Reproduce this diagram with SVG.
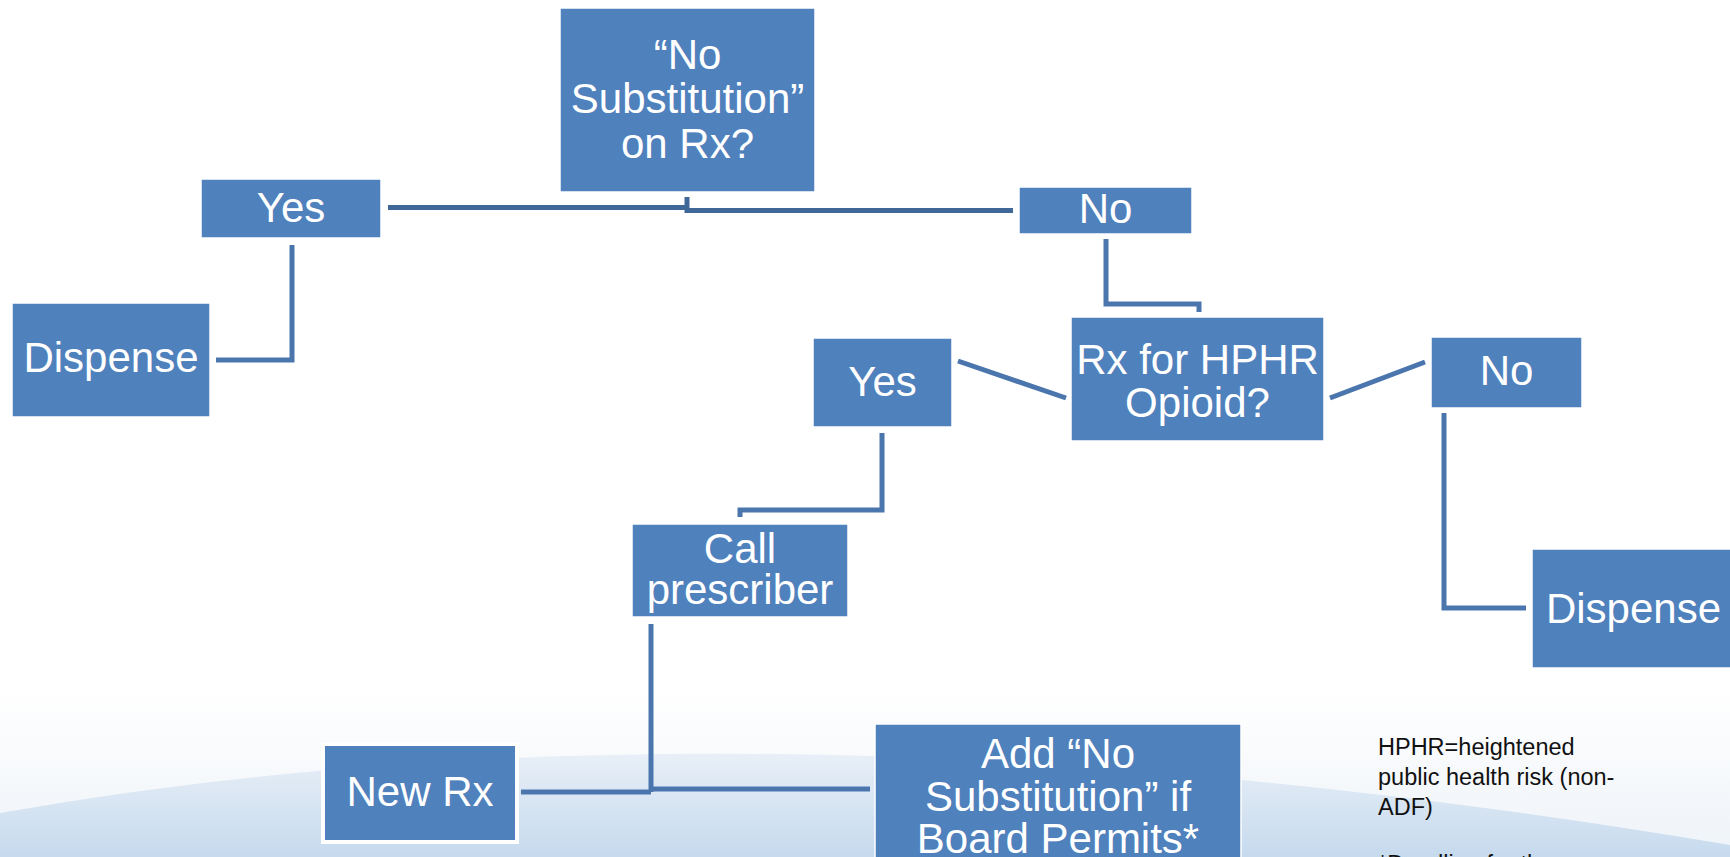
<svg xmlns="http://www.w3.org/2000/svg" width="1730" height="857" viewBox="0 0 1730 857">
  <defs>
    <linearGradient id="bgLow" x1="0" y1="0" x2="0" y2="1">
      <stop offset="0" stop-color="#e8eff7"/>
      <stop offset="1" stop-color="#c6daee"/>
    </linearGradient>
    <linearGradient id="bgHaze" x1="0" y1="0" x2="0" y2="1">
      <stop offset="0" stop-color="#ffffff"/>
      <stop offset="1" stop-color="#eef3f8"/>
    </linearGradient>
    <style>
      .box { fill: #4F81BD; stroke: #ffffff; stroke-width: 1.5; }
      .lbl { fill: #ffffff; font-family: "Liberation Sans", Arial, sans-serif; font-size: 42px; text-anchor: middle; }
      .note { fill: #111111; font-family: "Liberation Sans", Arial, sans-serif; font-size: 23.5px; }
      .conn { fill: none; stroke: #4A76AD; stroke-width: 5; stroke-linejoin: miter; stroke-linecap: butt; }
      .conn-top { fill: none; stroke: #3F6797; stroke-width: 5; }
    </style>
  </defs>

  <g id="background">
    <rect x="0" y="0" width="1730" height="857" fill="#ffffff"/>
    <rect x="0" y="690" width="1730" height="167" fill="url(#bgHaze)"/>
    <path d="M0,813 Q750,680 1730,845 L1730,857 L0,857 Z" fill="url(#bgLow)"/>
  </g>

  <g id="connectors">
    <path class="conn-top" d="M388,207.5 H689"/>
    <path class="conn-top" d="M687,197 V213"/>
    <path class="conn-top" d="M687,210.5 H1013"/>
    <path class="conn" d="M292,245 V360 H216"/>
    <path class="conn" d="M1106,239 V304 H1199 V312"/>
    <path class="conn" d="M958,361 L1066,398"/>
    <path class="conn" d="M1330,398 L1425,362"/>
    <path class="conn" d="M882,433 V510 H740 V517"/>
    <path class="conn" d="M1444,413 V608 H1526"/>
    <path class="conn" d="M651,624 V792"/>
    <path class="conn" d="M521,792 H651"/>
    <path class="conn" d="M651,789 H870"/>
  </g>

  <g id="node-nosub">
    <rect class="box" x="560" y="8" width="255" height="184"/>
    <text class="lbl" x="687.5" y="69">“No</text>
    <text class="lbl" x="687.5" y="113">Substitution”</text>
    <text class="lbl" x="687.5" y="158">on Rx?</text>
  </g>

  <g id="node-yes1">
    <rect class="box" x="201" y="179" width="180" height="59"/>
    <text class="lbl" x="291" y="222">Yes</text>
  </g>

  <g id="node-no1">
    <rect class="box" x="1019" y="187" width="173" height="47"/>
    <text class="lbl" x="1105.5" y="223">No</text>
  </g>

  <g id="node-dispense1">
    <rect class="box" x="12" y="303" width="198" height="114"/>
    <text class="lbl" x="111" y="372">Dispense</text>
  </g>

  <g id="node-hphr">
    <rect class="box" x="1071" y="317" width="253" height="124"/>
    <text class="lbl" x="1197.5" y="374">Rx for HPHR</text>
    <text class="lbl" x="1197.5" y="417">Opioid?</text>
  </g>

  <g id="node-yes2">
    <rect class="box" x="813" y="338" width="139" height="89"/>
    <text class="lbl" x="882.5" y="396">Yes</text>
  </g>

  <g id="node-no2">
    <rect class="box" x="1431" y="337" width="151" height="71"/>
    <text class="lbl" x="1506.5" y="385">No</text>
  </g>

  <g id="node-call">
    <rect class="box" x="632" y="524" width="216" height="93"/>
    <text class="lbl" x="740" y="563">Call</text>
    <text class="lbl" x="740" y="604">prescriber</text>
  </g>

  <g id="node-dispense2">
    <rect class="box" x="1532" y="549" width="203" height="119"/>
    <text class="lbl" x="1633.5" y="623">Dispense</text>
  </g>

  <g id="node-newrx">
    <rect x="323" y="744" width="194" height="98" fill="#4F81BD" stroke="#ffffff" stroke-width="4"/>
    <text class="lbl" x="420" y="806">New Rx</text>
  </g>

  <g id="node-add">
    <rect class="box" x="875" y="724" width="366" height="140"/>
    <text class="lbl" x="1058" y="768">Add “No</text>
    <text class="lbl" x="1058" y="811">Substitution” if</text>
    <text class="lbl" x="1058" y="853">Board Permits*</text>
  </g>

  <g id="notes">
    <text class="note" x="1378" y="755">HPHR=heightened</text>
    <text class="note" x="1378" y="785">public health risk (non-</text>
    <text class="note" x="1378" y="815">ADF)</text>
    <text class="note" x="1378" y="872">*Deadline for the</text>
  </g>
</svg>
